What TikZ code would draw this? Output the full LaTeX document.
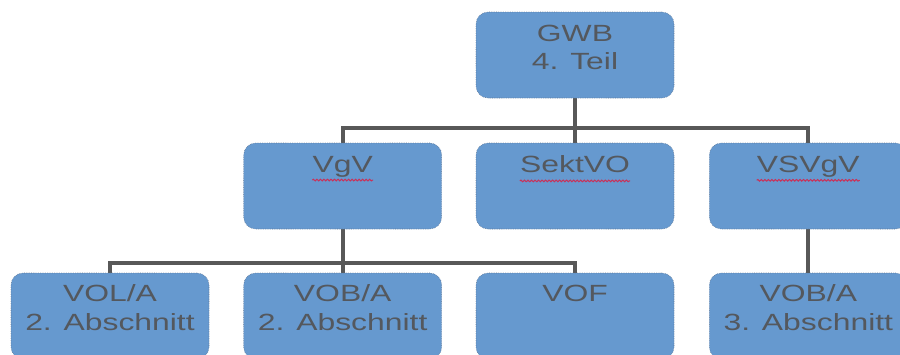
\documentclass[tikz,border=0pt]{standalone}
\usepackage{fontspec}
\setmainfont[FakeStretch=1.36]{Liberation Sans}
\usetikzlibrary{backgrounds,decorations.pathmorphing}
\definecolor{boxblue}{RGB}{102,153,207}
\definecolor{boxedge}{RGB}{95,118,148}
\definecolor{textgray}{RGB}{84,88,94}
\definecolor{linegray}{RGB}{88,88,88}
\definecolor{spellred}{RGB}{200,50,90}
\tikzstyle{part}=[rectangle, fill=boxblue, draw=boxedge, densely dotted, line width=0.5pt, rounded corners=0.36cm, minimum width=5.94cm, minimum height=2.58cm, inner sep=0pt]
\tikzstyle{lbl}=[text=textgray, font=\fontsize{20}{24}\selectfont, align=center, anchor=north, inner sep=0pt]
\tikzstyle{link}=[draw=linegray, line width=3.4pt]
\tikzstyle{squiggle}=[draw=spellred, line width=0.9pt, decorate, decoration={snake, amplitude=0.7pt, segment length=3pt}]

\begin{document}
\begin{tikzpicture}
\clip (0,0) rectangle (27,-10.62);
%Row One
\node[part] (gwb) at (17.25,-1.65){};
\node[lbl] (gwbt) at ([yshift=-0.39cm]gwb.north){GWB\\4. Teil};
%Row Two
\node[part] (vgv) at (10.28,-5.58){};
\node[lbl] (vgvt) at ([yshift=-0.39cm]vgv.north){VgV};
\node[part] (sektvo) at (17.25,-5.58){};
\node[lbl] (sektvot) at ([yshift=-0.39cm]sektvo.north){SektVO};
\node[part] (vsvgv) at (24.25,-5.58){};
\node[lbl] (vsvgvt) at ([yshift=-0.39cm]vsvgv.north){VSVgV};
%Row Three
\node[part] (vola) at (3.3,-9.48){};
\node[lbl] (volat) at ([yshift=-0.36cm]vola.north){VOL/A\\2. Abschnitt};
\node[part] (voba) at (10.28,-9.48){};
\node[lbl] (vobat) at ([yshift=-0.36cm]voba.north){VOB/A\\2. Abschnitt};
\node[part] (vof) at (17.25,-9.48){};
\node[lbl] (voft) at ([yshift=-0.36cm]vof.north){VOF};
\node[part] (vobb) at (24.25,-9.48){};
\node[lbl] (vobbt) at ([yshift=-0.36cm]vobb.north){VOB/A\\3. Abschnitt};
%spelling marks
\draw[squiggle] ([yshift=-0.24cm]vgvt.base west) -- ([yshift=-0.24cm]vgvt.base east);
\draw[squiggle] ([yshift=-0.24cm]sektvot.base west) -- ([yshift=-0.24cm]sektvot.base east);
\draw[squiggle] ([yshift=-0.24cm]vsvgvt.base west) -- ([yshift=-0.24cm]vsvgvt.base east);
%lines
\coordinate (bus1) at (17.25,-3.84);
\coordinate (bus2) at (10.28,-7.89);
\begin{scope}[on background layer]
\draw[link] (gwb.south) -- (sektvo.north);
\draw[link] (bus1) -| (vgv.north);
\draw[link] (bus1) -| (vsvgv.north);
\draw[link] (vgv.south) -- (voba.north);
\draw[link] (bus2) -| (vola.north);
\draw[link] (bus2) -| (vof.north);
\draw[link] (vsvgv.south) -- (vobb.north);
\end{scope}

\end{tikzpicture}
\end{document}
